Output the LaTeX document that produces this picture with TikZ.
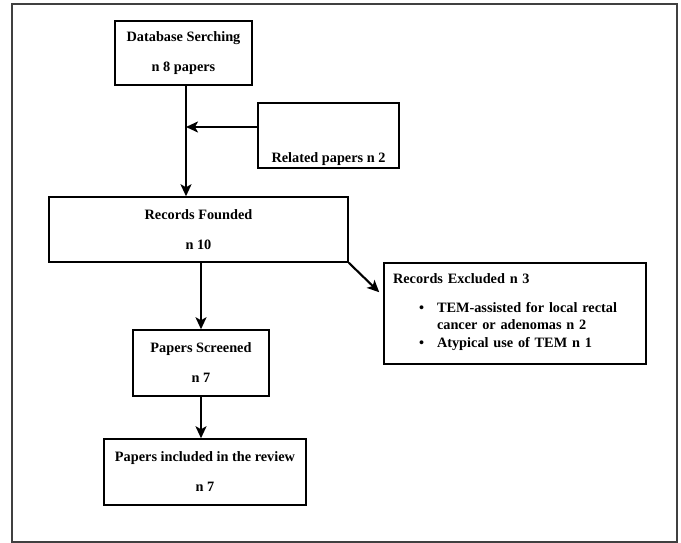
\documentclass[tikz,border=0pt]{standalone}
\usepackage{fontspec}
\setmainfont{Liberation Serif}
\usetikzlibrary{arrows.meta}
\tikzset{
  txt/.style={font=\fontsize{14.3}{17}\selectfont\bfseries},
  box/.style={txt, draw, line width=1.5pt, align=center, inner sep=0pt},
  arr/.style={line width=2.1pt, -{Stealth[length=12pt,width=11pt,inset=3pt]}}
}
\begin{document}
\begin{tikzpicture}[x=1pt,y=-1pt]
  \useasboundingbox (0,0) rectangle (681,543);
  \draw[line width=1.2pt, black!75] (12,4) rectangle (677,542);
  \node[box, minimum width=137, minimum height=64] (db) at (183.5,53) {Database Serching\\[13pt]n 8 papers};
  \node[box, minimum width=141, minimum height=65] (rel) at (328.5,135.5) {};
  \node[txt, anchor=base] (reltxt) at ([yshift=6pt]rel.south) {Related papers n 2};
  \node[box, minimum width=299, minimum height=65] (rec) at (198.5,229.5) {Records Founded\\[13pt]n 10};
  \node[box, minimum width=262, minimum height=101, align=left, inner xsep=9pt, text width=244] (exc) at (515,313.5)
    {Records Excluded n 3\\[12pt]
     \hspace*{26pt}\begin{tabular}[t]{@{}l@{\hspace{13pt}}l@{}}
       \textbullet & TEM-assisted for local rectal\\
                   & cancer or adenomas n 2\\[1pt]
       \textbullet & Atypical use of TEM n 1
     \end{tabular}};
  \node[box, minimum width=136, minimum height=66] (scr) at (201,363) {Papers Screened\\[13pt]n 7};
  \node[box, minimum width=202, minimum height=66] (inc) at (205,472) {Papers included in the review\\[13pt]n 7};
  \coordinate (join) at (186,127);
  \draw[arr] (db.south -| join) -- (join |- rec.north);
  \draw[arr] (rel.west |- join) -- (join);
  \draw[arr] (rec.south east) -- ([xshift=-4pt,yshift=-30pt]exc.north west);
  \draw[arr] (rec.south -| scr.north) -- (scr.north);
  \draw[arr] (scr.south) -- (scr.south |- inc.north);
\end{tikzpicture}
\end{document}
